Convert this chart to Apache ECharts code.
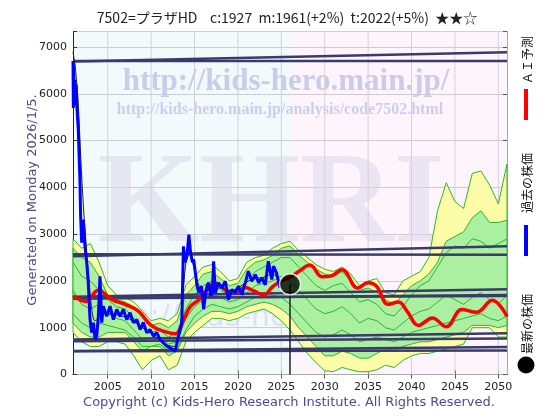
<!DOCTYPE html>
<html><head><meta charset="utf-8">
<script src="https://cdn.jsdelivr.net/npm/echarts@6/dist/echarts.min.js"></script>
<style>html,body{margin:0;padding:0;background:#fff}#c{width:560px;height:420px}</style>
</head><body><div id="c"></div>
<script>
// ---------------- data ----------------
const Y_MAX = 7333;
const gridYears = [2005, 2010, 2015, 2020, 2025, 2030, 2035, 2040, 2045, 2050];
const yTicks = [0, 1000, 2000, 3000, 4000, 5000, 6000, 7000];

const bandYears = [2001,2002,2003,2004,2005,2006,2007,2008,2009,2010,2011,2012,2013,2014,2015,2016,2017,2018,2019,2020,2021,2022,2023,2024,2025,2026,2027,2028,2029,2030,2031,2032,2033,2034,2035,2036,2037,2038,2039,2040,2041,2042,2043,2044,2045,2046,2047,2048,2049,2050,2051];
const yellowHi = [2900,2700,2800,2400,1900,1700,1650,1550,1350,1150,1200,1150,1300,1900,2100,2300,2350,2200,2000,2050,2400,2500,2550,2700,2800,2850,2650,2500,2350,2250,2200,2300,2150,1900,2000,2050,1750,1700,2000,2100,2200,2500,3500,4100,3700,3550,4300,4350,4050,3650,4500];
const greenHi  = [2700,2500,2400,2100,1700,1600,1550,1450,1250,1050,1100,1000,1150,1700,1900,2150,2200,2050,1900,1950,2250,2400,2450,2550,2700,2750,2550,2400,2250,2150,2100,2200,2000,1800,1850,1750,1600,1500,1700,1900,2000,2150,2400,2850,2950,3050,3350,3500,3250,3250,3300];
const greenLo  = [1100,900,800,800,900,900,900,700,500,600,600,400,500,900,1100,1250,1350,1350,1300,1350,1450,1500,1550,1500,1400,1250,1000,800,600,400,400,500,450,350,350,450,550,500,600,650,700,700,750,800,850,900,1050,1050,1050,1000,1050];
const yellowLo = [900,700,600,600,700,700,650,400,100,300,400,100,200,700,900,1050,1200,1200,1150,1200,1300,1350,1400,1300,1150,950,700,450,250,80,60,150,100,60,60,100,200,150,300,400,450,450,500,550,600,650,1000,1000,1000,800,800];
const greenLine1 = [2400,2100,2000,1800,1600,1450,1400,1200,1000,900,950,800,900,1400,1700,1900,2000,1800,1700,1750,2000,2200,2300,2400,2500,2500,2300,2100,1900,1800,1900,1950,1750,1550,1600,1500,1300,1250,1450,1700,1900,2000,2300,2600,2750,2700,2900,2850,2700,2800,2900];
const greenLine2 = [1800,1500,1400,1500,1300,1200,1150,950,750,700,800,650,700,1200,1450,1600,1700,1650,1550,1600,1750,1900,1950,2000,2100,2000,1800,1600,1400,1300,1350,1450,1300,1100,1200,1150,1000,950,1100,1250,1350,1400,1550,1700,1600,1500,1650,1750,1600,1500,1700];
const greenLine3 = [1300,1100,1000,1100,1050,1000,950,800,600,600,650,500,550,950,1250,1400,1500,1450,1400,1450,1550,1650,1700,1700,1650,1500,1300,1100,900,800,850,950,850,700,750,800,750,700,800,900,950,1000,1050,1100,1150,1200,1250,1300,1200,1150,1250];

// support / resistance lines (value at 2001, value at 2051)
const trendYears = [2001, 2051];
const trendStart = [6700, 6690, 2570, 2530, 1660, 1640, 1620, 750, 710, 505, 495];
const trendEnd   = [6700, 6890, 2560, 2740, 1820, 1680, 1700, 880, 770, 590, 515];

// AI forecast (red)
const aiYears  = [2001.0,2002.5,2003.9,2005.5,2007.0,2008.5,2010.0,2011.5,2012.8,2013.7,2014.5,2015.5,2016.5,2017.5,2018.6,2019.8,2020.8,2021.9,2023.0,2024.0,2025.0,2026.0,2027.0,2028.3,2029.7,2030.8,2032.0,2033.8,2035.0,2036.0,2037.3,2038.5,2039.5,2040.8,2042.4,2044.0,2045.8,2047.5,2049.3,2051.0];
const aiValues = [1680,1560,1800,1600,1500,1360,1050,920,870,1150,1450,1600,1820,1950,1800,1760,1860,1780,1700,1880,2000,2080,2200,2340,2090,2110,2240,1850,1960,1880,1500,1550,1350,1050,1210,1020,1390,1330,1590,1240];

// past price (blue)
const pastYears  = [2001.00,2001.04,2001.08,2001.12,2001.20,2001.28,2001.36,2001.45,2001.61,2001.80,2001.88,2002.00,2002.18,2002.38,2002.58,2002.76,2002.96,2003.15,2003.34,2003.55,2003.73,2003.92,2004.11,2004.31,2004.49,2004.88,2005.27,2005.65,2006.04,2006.42,2006.80,2007.19,2007.57,2007.95,2008.35,2008.73,2009.10,2009.50,2009.88,2010.26,2010.65,2011.03,2011.42,2011.80,2012.19,2012.77,2013.15,2013.54,2013.72,2013.90,2014.10,2014.35,2014.55,2014.75,2014.90,2015.10,2015.30,2015.50,2015.80,2016.05,2016.25,2016.45,2016.65,2016.85,2017.05,2017.20,2017.40,2017.75,2018.15,2018.55,2018.90,2019.30,2019.70,2020.05,2020.45,2020.85,2021.20,2021.60,2022.00,2022.40,2022.75,2023.15,2023.50,2023.90,2024.10,2024.45,2024.70,2024.85];
const pastValues = [6700,5700,6650,5750,6300,5800,6200,5700,5230,4160,3380,2820,3310,2740,2390,1960,1175,895,1110,750,820,1245,2100,1110,1460,1245,1460,1175,1390,1245,1390,1175,1320,1110,1175,960,1110,895,960,820,895,750,675,605,570,500,820,1110,2740,2400,2500,2990,2600,2400,2460,2170,1890,1750,1890,1400,1700,1900,1960,1680,1745,2420,1745,1960,1850,1995,1600,1815,1745,1890,1710,1960,2210,1995,2135,1960,2065,1920,2420,2030,2315,2170,1960,1850];

// moving average (thin black)
const avgYears  = [2001.0,2001.3,2001.6,2001.9,2002.2,2002.5,2002.8,2003.1,2003.5,2004.0,2004.5,2005.0,2006.0,2007.0,2008.0,2009.0,2010.0,2011.0,2012.0,2012.8,2013.3,2013.7,2014.1,2014.5,2014.9,2015.4,2016.0,2017.0,2018.0,2019.0,2020.0,2021.0,2022.0,2023.0,2024.0,2024.8];
const avgValues = [6900,6500,5800,4600,3600,2800,2100,1500,1150,1200,1300,1300,1280,1230,1130,1000,880,740,620,600,900,1800,2500,2600,2300,1950,1750,1850,1850,1780,1850,1980,2050,2080,2150,2000];

// latest price
const latestYear = 2026;
const latestValue = 1927;

// ---------------- chart ----------------
const pairs = (xs, ys) => xs.map((x, i) => [x, ys[i]]);
const GREEN_LINE = '#2fb52f';

function bandSeries(hi, lo, fill, z) {
  return {
    type:'custom', coordinateSystem:'cartesian2d', z:z, silent:true,
    data:[[bandYears[0], lo[0]]],
    renderItem:(params, api) => {
      const pts = [];
      for (let i = 0; i < bandYears.length; i++) pts.push(api.coord([bandYears[i], hi[i]]));
      for (let i = bandYears.length - 1; i >= 0; i--) pts.push(api.coord([bandYears[i], lo[i]]));
      return {type:'polygon', shape:{points:pts}, style:{fill:fill, stroke:GREEN_LINE, lineWidth:1}};
    }
  };
}

const series = [];
// background tints (past / future)
series.push({type:'line', data:[[2001, Y_MAX],[latestYear, Y_MAX]], symbol:'none', silent:true, z:0,
  lineStyle:{width:0, opacity:0}, areaStyle:{color:'rgba(0,150,170,0.07)'}});
series.push({type:'line', data:[[latestYear, Y_MAX],[2051, Y_MAX]], symbol:'none', silent:true, z:0,
  lineStyle:{width:0, opacity:0}, areaStyle:{color:'rgba(220,0,170,0.055)'}});
// vertical grid lines
gridYears.forEach(g => series.push({type:'line', data:[[g, 0],[g, Y_MAX]], symbol:'none', silent:true, z:1,
  lineStyle:{color:'#d2d2d2', width:1}}));
// bands
series.push(bandSeries(yellowHi, yellowLo, '#fdfda8', 2));
series.push(bandSeries(greenHi, greenLo, '#aaf0a0', 2));
// thin green lines
[greenLine1, greenLine2, greenLine3].forEach(g => series.push({type:'line', data:pairs(bandYears, g), symbol:'none', z:3,
  lineStyle:{color:GREEN_LINE, width:1}}));
// trend lines
trendStart.forEach((s, i) => series.push({type:'line', data:[[trendYears[0], s],[trendYears[1], trendEnd[i]]], symbol:'none', z:4,
  lineStyle:{color:'#3a3a6c', width:2.5}}));
// AI forecast
series.push({type:'line', name:'AI', data:pairs(aiYears, aiValues), symbol:'none', smooth:0.4, z:5,
  lineStyle:{color:'#ff0000', width:3.5}});
// average
series.push({type:'line', data:pairs(avgYears, avgValues), symbol:'none', smooth:0.3, z:6,
  lineStyle:{color:'#222', width:1}});
// past prices
series.push({type:'line', name:'past', data:pairs(pastYears, pastValues), symbol:'none', z:7,
  lineStyle:{color:'#0000ff', width:3}});
// latest price marker
series.push({type:'line', data:[[latestYear, latestValue],[latestYear, 0]], symbol:'none', z:7,
  lineStyle:{color:'#222', width:1.5}});
series.push({type:'scatter', data:[[latestYear, latestValue]], symbolSize:21, z:8,
  itemStyle:{color:'#000', borderColor:'#fff', borderWidth:1.5}});

const option = {
  animation:false,
  backgroundColor:'#fff',
  grid:{left:73, right:53, top:31.5, bottom:45.5, containLabel:false},
  xAxis:[
    {type:'value', min:2001, max:2051, position:'bottom',
     axisLine:{show:true, lineStyle:{color:'#222', width:1}},
     axisTick:{show:true, inside:true, length:4, customValues:gridYears, lineStyle:{color:'#333'}},
     axisLabel:{customValues:gridYears, color:'#222', fontSize:11, margin:7, fontFamily:'DejaVu Sans',
       formatter:v => String(v)},
     splitLine:{show:false}},
    {type:'value', min:2001, max:2051, position:'top',
     axisLine:{show:true, lineStyle:{color:'#aaa', width:1}},
     axisTick:{show:true, inside:true, length:4, customValues:gridYears, lineStyle:{color:'#555'}},
     axisLabel:{show:false}, splitLine:{show:false}}
  ],
  yAxis:[
    {type:'value', min:0, max:Y_MAX, interval:1000, position:'left',
     axisLine:{show:true, lineStyle:{color:'#222', width:1}},
     axisTick:{show:true, inside:true, length:4, lineStyle:{color:'#333'}},
     axisLabel:{color:'#222', fontSize:11, margin:6, fontFamily:'DejaVu Sans',
       formatter:v => yTicks.includes(v) ? String(v) : ''},
     splitLine:{show:true, lineStyle:{color:'#d2d2d2', width:1}}},
    {type:'value', min:0, max:Y_MAX, interval:1000, position:'right',
     axisLine:{show:true, lineStyle:{color:'#aaa', width:1}},
     axisTick:{show:true, inside:true, length:4, lineStyle:{color:'#555'}},
     axisLabel:{show:false}, splitLine:{show:false}}
  ],
  graphic:[
    {type:'text', z:1, x:286, y:82, style:{text:'http://kids-hero.main.jp/', font:'bold 31px "Liberation Serif"', fill:'#cbcbea', align:'center', verticalAlign:'middle', textAlign:'center', textVerticalAlign:'middle'}},
    {type:'text', z:1, x:280, y:110, style:{text:'http://kids-hero.main.jp/analysis/code7502.html', font:'bold 16px "Liberation Serif"', fill:'#cdcdee', align:'center', verticalAlign:'middle', textAlign:'center', textVerticalAlign:'middle'}},
    {type:'text', z:1, x:271, y:207, style:{text:'KHRI', font:'bold 130px "Liberation Serif"', fill:'rgba(215,212,232,0.5)', align:'center', verticalAlign:'middle', textAlign:'center', textVerticalAlign:'middle'}},
    {type:'text', z:1, x:88, y:318, style:{text:'http://kids-hero.main.jp/', font:'30px "DejaVu Sans"', fill:'rgba(195,195,228,0.45)', align:'left', verticalAlign:'middle', textAlign:'left', textVerticalAlign:'middle'}},
    {type:'text', z:20, x:287, y:18, style:{text:'7502=プラザHD    c:1927  m:1961(+2%)  t:2022(+5%)  ★★☆', font:'14px "Noto Sans CJK JP"', fill:'#222', align:'center', verticalAlign:'middle', textAlign:'center', textVerticalAlign:'middle'}},
    {type:'text', z:20, x:33, y:200, rotation:Math.PI/2, style:{text:'Generated on Monday 2026/1/5.', font:'13px "DejaVu Sans"', fill:'#4b4b8c', align:'center', verticalAlign:'middle', textAlign:'center', textVerticalAlign:'middle'}},
    {type:'text', z:20, x:289, y:403, style:{text:'Copyright (c) Kids-Hero Research Institute. All Rights Reserved.', font:'13px "DejaVu Sans"', fill:'#4b4b96', align:'center', verticalAlign:'middle', textAlign:'center', textVerticalAlign:'middle'}},
    // legend (vertical)
    {type:'text', z:20, x:527, y:84, rotation:Math.PI/2, style:{text:'ＡＩ予測', font:'12px "Noto Sans CJK JP"', fill:'#111', align:'left', verticalAlign:'middle', textAlign:'left', textVerticalAlign:'middle'}},
    {type:'line', z:20, shape:{x1:526, y1:89, x2:526, y2:120}, style:{stroke:'#ff0000', lineWidth:4}},
    {type:'text', z:20, x:527, y:213, rotation:Math.PI/2, style:{text:'過去の株価', font:'12px "Noto Sans CJK JP"', fill:'#111', align:'left', verticalAlign:'middle', textAlign:'left', textVerticalAlign:'middle'}},
    {type:'line', z:20, shape:{x1:526, y1:225, x2:526, y2:256}, style:{stroke:'#0000ff', lineWidth:4}},
    {type:'text', z:20, x:527, y:354, rotation:Math.PI/2, style:{text:'最新の株価', font:'12px "Noto Sans CJK JP"', fill:'#111', align:'left', verticalAlign:'middle', textAlign:'left', textVerticalAlign:'middle'}},
    {type:'circle', z:20, shape:{cx:526, cy:365, r:8.5}, style:{fill:'#000'}}
  ],
  series:series
};
const chart = echarts.init(document.getElementById('c'));
chart.setOption(option);
</script>
</body></html>
